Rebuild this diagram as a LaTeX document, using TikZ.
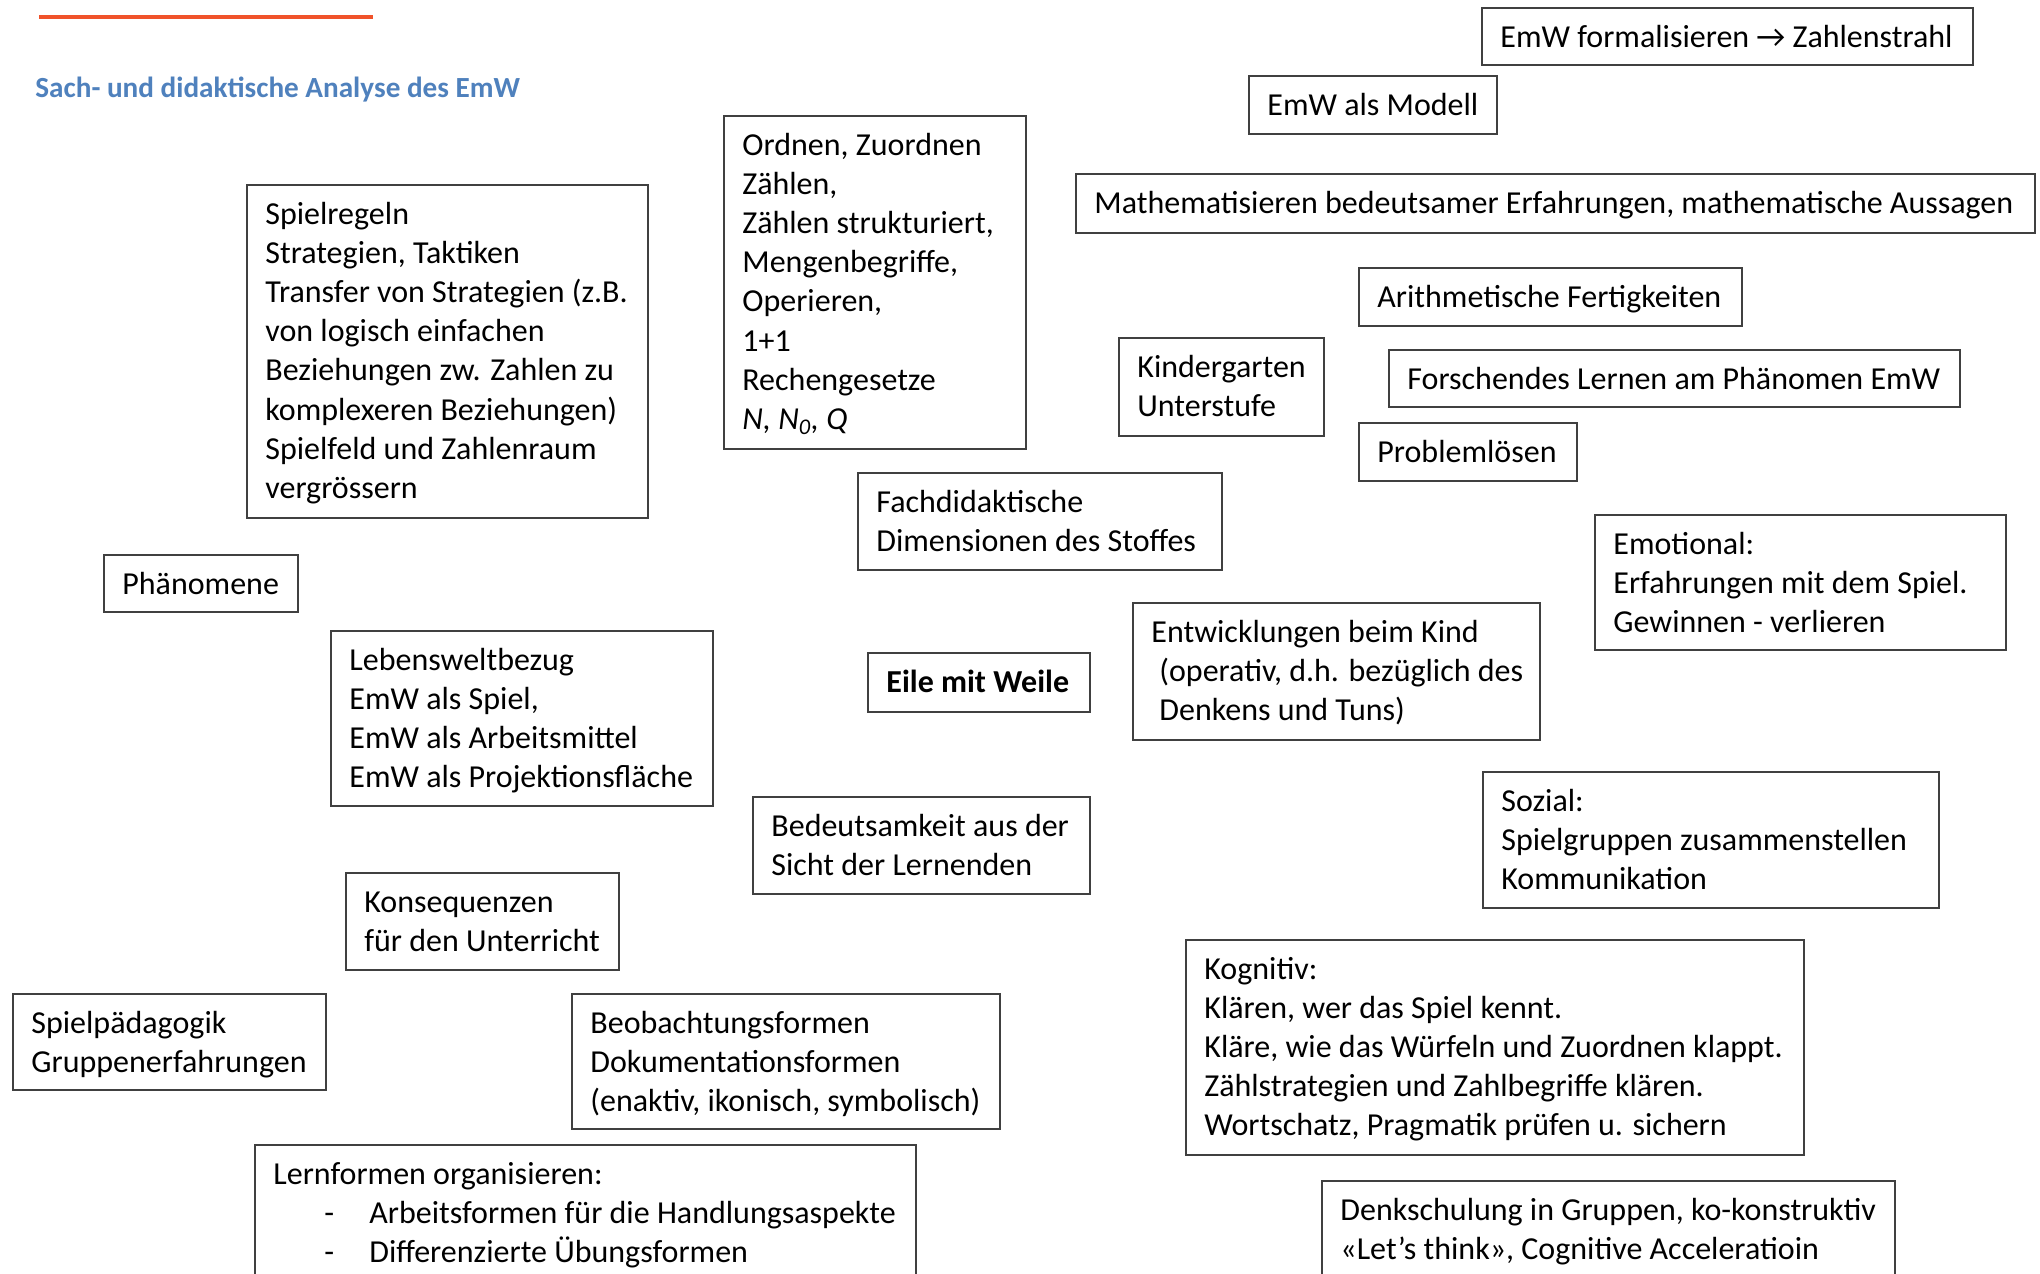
\documentclass[tikz,border=0pt]{standalone}
\usepackage{fontspec}
\setmainfont{Carlito}
\definecolor{titleblue}{RGB}{79,129,189}
\definecolor{linered}{RGB}{240,82,42}
\definecolor{boxline}{RGB}{64,64,64}
\begin{document}
\begin{tikzpicture}[x=0.5pt,y=-0.5pt,
  bx/.style={draw=boxline, line width=0.75pt, anchor=north west, inner sep=0pt, rectangle},
  txt/.style={anchor=base west, align=left, inner sep=0pt, font=\fontsize{16}{19.6}\selectfont},
  title/.style={anchor=base west, inner sep=0pt, text=titleblue, font=\fontsize{14.6}{17}\selectfont\bfseries}]
\useasboundingbox (0,0) rectangle (2040,1274);
\clip (0,0) rectangle (2040,1274);
\fill[white] (0,0) rectangle (2040,1274);

% header
\coordinate (rl1) at (39,17);
\coordinate (rl2) at (373,17);
\draw[linered, line width=1.6pt] (rl1) -- (rl2);
\node[title] (ttl) at (35,97) {Sach- und didaktische Analyse des EmW};

% boxes
\node[bx, minimum width=245.5pt, minimum height=28.5pt] (formal) at (1481,7) {};
\node[bx, minimum width=124pt, minimum height=29pt] (modell) at (1248,75) {};
\node[bx, minimum width=479.5pt, minimum height=29.5pt] (math) at (1075,173) {};
\node[bx, minimum width=151pt, minimum height=166.5pt] (ordnen) at (723,115) {};
\node[bx, minimum width=200.5pt, minimum height=166.5pt] (spiel) at (246,184) {};
\node[bx, minimum width=191.5pt, minimum height=29pt] (arith) at (1358,267) {};
\node[bx, minimum width=102.5pt, minimum height=49pt] (kinder) at (1118,337) {};
\node[bx, minimum width=285.5pt, minimum height=28.5pt] (forsch) at (1388,349) {};
\node[bx, minimum width=109pt, minimum height=29pt] (problem) at (1358,422) {};
\node[bx, minimum width=182pt, minimum height=48.5pt] (fach) at (857,472) {};
\node[bx, minimum width=205.5pt, minimum height=67.5pt] (emo) at (1594,514) {};
\node[bx, minimum width=97pt, minimum height=28.5pt] (phaen) at (103,554) {};
\node[bx, minimum width=191pt, minimum height=87.5pt] (leben) at (330,630) {};
\node[bx, minimum width=111pt, minimum height=29.5pt] (eile) at (867,652) {};
\node[bx, minimum width=203.5pt, minimum height=68.5pt] (entw) at (1132,602) {};
\node[bx, minimum width=168.5pt, minimum height=48.5pt] (bedeut) at (752,796) {};
\node[bx, minimum width=228pt, minimum height=68pt] (sozial) at (1482,771) {};
\node[bx, minimum width=136.5pt, minimum height=48.5pt] (konseq) at (345,872) {};
\node[bx, minimum width=309pt, minimum height=107.5pt] (kogn) at (1185,939) {};
\node[bx, minimum width=156.5pt, minimum height=48pt] (spielp) at (12,993) {};
\node[bx, minimum width=214pt, minimum height=67.5pt] (beob) at (571,993) {};
\node[bx, minimum width=330.5pt, minimum height=100pt] (lern) at (254,1144) {};
\node[bx, minimum width=286.5pt, minimum height=75pt] (denk) at (1321,1180) {};

% texts (anchor = baseline of last line; shift = 40 + (lines-1)*39.2)
\node[txt] (tformal) at ([shift={(19,40)}]formal.north west) {EmW formalisieren → Zahlenstrahl};
\node[txt] (tmodell) at ([shift={(19,40)}]modell.north west) {EmW als Modell};
\node[txt] (tmath) at ([shift={(19,40)}]math.north west) {Mathematisieren bedeutsamer Erfahrungen, mathematische Aussagen};
\node[txt] (tordnen) at ([shift={(19,314.4)}]ordnen.north west) {Ordnen, Zuordnen\\Zählen,\\Zählen strukturiert,\\Mengenbegriffe,\\Operieren,\\1+1\\Rechengesetze\\\textit{N, N\textsubscript{0}, Q}};
\node[txt] (tspiel) at ([shift={(19,314.4)}]spiel.north west) {Spielregeln\\Strategien, Taktiken\\Transfer von Strategien (z.B.\\von logisch einfachen\\Beziehungen zw. Zahlen zu\\komplexeren Beziehungen)\\Spielfeld und Zahlenraum\\vergrössern};
\node[txt] (tarith) at ([shift={(19,40)}]arith.north west) {Arithmetische Fertigkeiten};
\node[txt] (tkinder) at ([shift={(19,79.2)}]kinder.north west) {Kindergarten\\Unterstufe};
\node[txt] (tforsch) at ([shift={(19,40)}]forsch.north west) {Forschendes Lernen am Phänomen EmW};
\node[txt] (tproblem) at ([shift={(19,40)}]problem.north west) {Problemlösen};
\node[txt] (tfach) at ([shift={(19,79.2)}]fach.north west) {Fachdidaktische\\Dimensionen des Stoffes};
\node[txt] (temo) at ([shift={(19,118.4)}]emo.north west) {Emotional:\\Erfahrungen mit dem Spiel.\\Gewinnen - verlieren};
\node[txt] (tphaen) at ([shift={(19,40)}]phaen.north west) {Phänomene};
\node[txt] (tleben) at ([shift={(19,157.6)}]leben.north west) {Lebensweltbezug\\EmW als Spiel,\\EmW als Arbeitsmittel\\EmW als Projektionsfläche};
\node[txt, font=\fontsize{16}{19.6}\selectfont\bfseries] (teile) at ([shift={(19,40)}]eile.north west) {Eile mit Weile};
\node[txt] (tentw) at ([shift={(19,118.4)}]entw.north west) {Entwicklungen beim Kind\\\hspace*{4pt}(operativ, d.h. bezüglich des\\\hspace*{4pt}Denkens und Tuns)};
\node[txt] (tbedeut) at ([shift={(19,79.2)}]bedeut.north west) {Bedeutsamkeit aus der\\Sicht der Lernenden};
\node[txt] (tsozial) at ([shift={(19,118.4)}]sozial.north west) {Sozial:\\Spielgruppen zusammenstellen\\Kommunikation};
\node[txt] (tkonseq) at ([shift={(19,79.2)}]konseq.north west) {Konsequenzen\\für den Unterricht};
\node[txt] (tkogn) at ([shift={(19,196.8)}]kogn.north west) {Kognitiv:\\Klären, wer das Spiel kennt.\\Kläre, wie das Würfeln und Zuordnen klappt.\\Zählstrategien und Zahlbegriffe klären.\\Wortschatz, Pragmatik prüfen u. sichern};
\node[txt] (tspielp) at ([shift={(19,79.2)}]spielp.north west) {Spielpädagogik\\Gruppenerfahrungen};
\node[txt] (tbeob) at ([shift={(19,118.4)}]beob.north west) {Beobachtungsformen\\Dokumentationsformen\\(enaktiv, ikonisch, symbolisch)};
\node[txt] (tlern) at ([shift={(19,118.4)}]lern.north west) {Lernformen organisieren:\\\hspace*{25.5pt}\makebox[22.5pt][l]{-}Arbeitsformen für die Handlungsaspekte\\\hspace*{25.5pt}\makebox[22.5pt][l]{-}Differenzierte Übungsformen};
\node[txt] (tdenk) at ([shift={(19,79.2)}]denk.north west) {Denkschulung in Gruppen, ko-konstruktiv\\«Let’s think», Cognitive Acceleratioin};
\end{tikzpicture}
\end{document}
